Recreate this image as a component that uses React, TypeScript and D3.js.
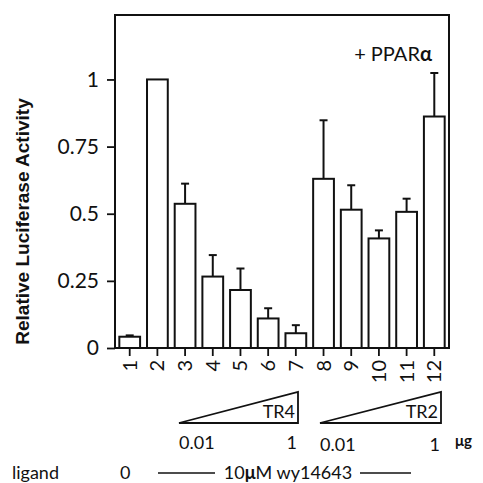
import React, { useEffect, useRef } from "react";
import * as d3 from "d3";

// lanes 1..12, relative luciferase activity (+ PPARa)
const lanes = ["1", "2", "3", "4", "5", "6", "7", "8", "9", "10", "11", "12"];
const activity = [0.042, 1.0, 0.537, 0.266, 0.216, 0.11, 0.055, 0.63, 0.515, 0.408, 0.507, 0.862];
const errorTop = [0.047, 1.0, 0.612, 0.346, 0.296, 0.148, 0.085, 0.848, 0.606, 0.438, 0.556, 1.024];
const yTicks = [0, 0.25, 0.5, 0.75, 1];
const yTickLabels = ["0", "0.25", "0.5", "0.75", "1"];

const width = 483;
const height = 483;
const left = 115;
const right = 449;
const top = 15;
const bottom = 348;

const App = () => {
  const svgRef = useRef<SVGSVGElement>(null);

  useEffect(() => {
    const root = d3.select(svgRef.current);
    root.selectAll("*").remove();

    const svg = root.attr("width", width).attr("height", height);
    const font = "Lato, 'Open Sans', sans-serif";

    const x = d3.scaleBand().domain(lanes).range([left + 1, right - 1]).paddingInner(0.25).paddingOuter(0.12);
    const y = d3.scaleLinear().domain([0, 1.24]).range([bottom, top]);

    const data = lanes.map((l, i) => ({ lane: l, v: activity[i], e: errorTop[i] }));

    // error bars (drawn first, bars cover the lower part)
    const err = svg.append("g").attr("stroke", "#111").attr("stroke-width", 2);
    data.filter((d) => d.e > d.v).forEach((d) => {
      const cx = x(d.lane)! + x.bandwidth() / 2;
      err.append("line").attr("x1", cx).attr("x2", cx).attr("y1", y(d.v)).attr("y2", y(d.e));
      err.append("line").attr("x1", cx - 4).attr("x2", cx + 4).attr("y1", y(d.e)).attr("y2", y(d.e));
    });

    // bars
    svg
      .append("g")
      .selectAll("rect")
      .data(data)
      .enter()
      .append("rect")
      .attr("x", (d) => x(d.lane)!)
      .attr("y", (d) => y(d.v))
      .attr("width", x.bandwidth())
      .attr("height", (d) => bottom - y(d.v))
      .attr("fill", "white")
      .attr("stroke", "#111")
      .attr("stroke-width", 2);

    // frame
    svg
      .append("rect")
      .attr("x", left)
      .attr("y", top)
      .attr("width", right - left)
      .attr("height", bottom - top)
      .attr("fill", "none")
      .attr("stroke", "#111")
      .attr("stroke-width", 2);

    // y axis
    const yAxis = d3
      .axisLeft(y)
      .tickValues(yTicks)
      .tickSize(8)
      .tickPadding(8)
      .tickFormat((_, i) => yTickLabels[i]);
    const ya = svg.append("g").attr("transform", `translate(${left},0)`).call(yAxis);
    ya.select(".domain").remove();
    ya.selectAll("line").attr("stroke", "#111").attr("stroke-width", 1.8);
    ya.selectAll("text").attr("font-family", font).attr("font-size", 21).attr("fill", "#111");

    // x axis with rotated lane numbers
    const xAxis = d3.axisBottom(x).tickSize(8).tickPadding(4);
    const xa = svg.append("g").attr("transform", `translate(0,${bottom})`).call(xAxis);
    xa.select(".domain").remove();
    xa.selectAll("line").attr("stroke", "#111").attr("stroke-width", 1.8);
    xa.selectAll("text")
      .attr("font-family", font)
      .attr("font-size", 20)
      .attr("fill", "#111")
      .attr("text-anchor", "end")
      .attr("dy", "0.35em")
      .attr("transform", "translate(0,12) rotate(-90)")
      .attr("y", 0)
      .attr("x", 0);

    // y title
    svg
      .append("text")
      .attr("transform", `translate(29,${(top + bottom) / 2 + 40}) rotate(-90)`)
      .attr("text-anchor", "middle")
      .attr("font-family", "'Liberation Sans', Arial, sans-serif")
      .attr("font-weight", "bold")
      .attr("font-size", 19)
      .attr("fill", "#111")
      .text("Relative Luciferase Activity");

    // + PPARa
    const pp = svg
      .append("text")
      .attr("x", 432)
      .attr("y", 61)
      .attr("text-anchor", "end")
      .attr("font-family", font)
      .attr("font-size", 20)
      .attr("fill", "#111");
    pp.append("tspan").text("+ PPAR");
    pp.append("tspan").attr("font-weight", "bold").text("α");

    // dose triangles
    const tri = svg.append("g").attr("fill", "none").attr("stroke", "#111").attr("stroke-width", 1.8);
    const triangles = [
      { x0: 179, x1: 298, label: "TR4" },
      { x0: 320, x1: 441, label: "TR2" },
    ];
    triangles.forEach((t) => {
      tri
        .append("path")
        .attr("d", `M${t.x0},423 L${t.x1},423 L${t.x1},392 Z`)
        .attr("stroke-linejoin", "miter");
      svg
        .append("text")
        .attr("x", t.x1 - 3)
        .attr("y", 418)
        .attr("text-anchor", "end")
        .attr("font-family", font)
        .attr("font-size", 18)
        .attr("fill", "#111")
        .text(t.label);
      svg
        .append("text")
        .attr("x", t.x0)
        .attr("y", t.x0 < 300 ? 449 : 451)
        .attr("font-family", font)
        .attr("font-size", 18)
        .attr("fill", "#111")
        .text("0.01");
      svg
        .append("text")
        .attr("x", t.x1 - 1)
        .attr("y", t.x0 < 300 ? 449 : 451)
        .attr("text-anchor", "end")
        .attr("font-family", font)
        .attr("font-size", 18)
        .attr("fill", "#111")
        .text("1");
    });
    svg
      .append("text")
      .attr("x", 455)
      .attr("y", 446)
      .attr("font-family", font)
      .attr("font-weight", "bold")
      .attr("font-size", 15)
      .attr("fill", "#111")
      .text("μg");

    // ligand row
    const lig = svg.append("g").attr("font-family", font).attr("font-size", 18).attr("fill", "#111");
    lig.append("text").attr("x", 12).attr("y", 479).text("ligand");
    lig.append("text").attr("x", 120).attr("y", 479).text("0");
    const w = lig.append("text").attr("x", 288).attr("y", 479).attr("text-anchor", "middle");
    w.append("tspan").text("10");
    w.append("tspan").attr("font-weight", "bold").text("μ");
    w.append("tspan").text("M wy14643");
    svg.append("line").attr("x1", 158).attr("x2", 215).attr("y1", 473).attr("y2", 473).attr("stroke", "#111").attr("stroke-width", 1.3);
    svg.append("line").attr("x1", 360).attr("x2", 411).attr("y1", 473).attr("y2", 473).attr("stroke", "#111").attr("stroke-width", 1.3);
  }, []);

  return <svg ref={svgRef} style={{ position: "absolute", left: 0, top: 0 }}></svg>;
};

export default App;
